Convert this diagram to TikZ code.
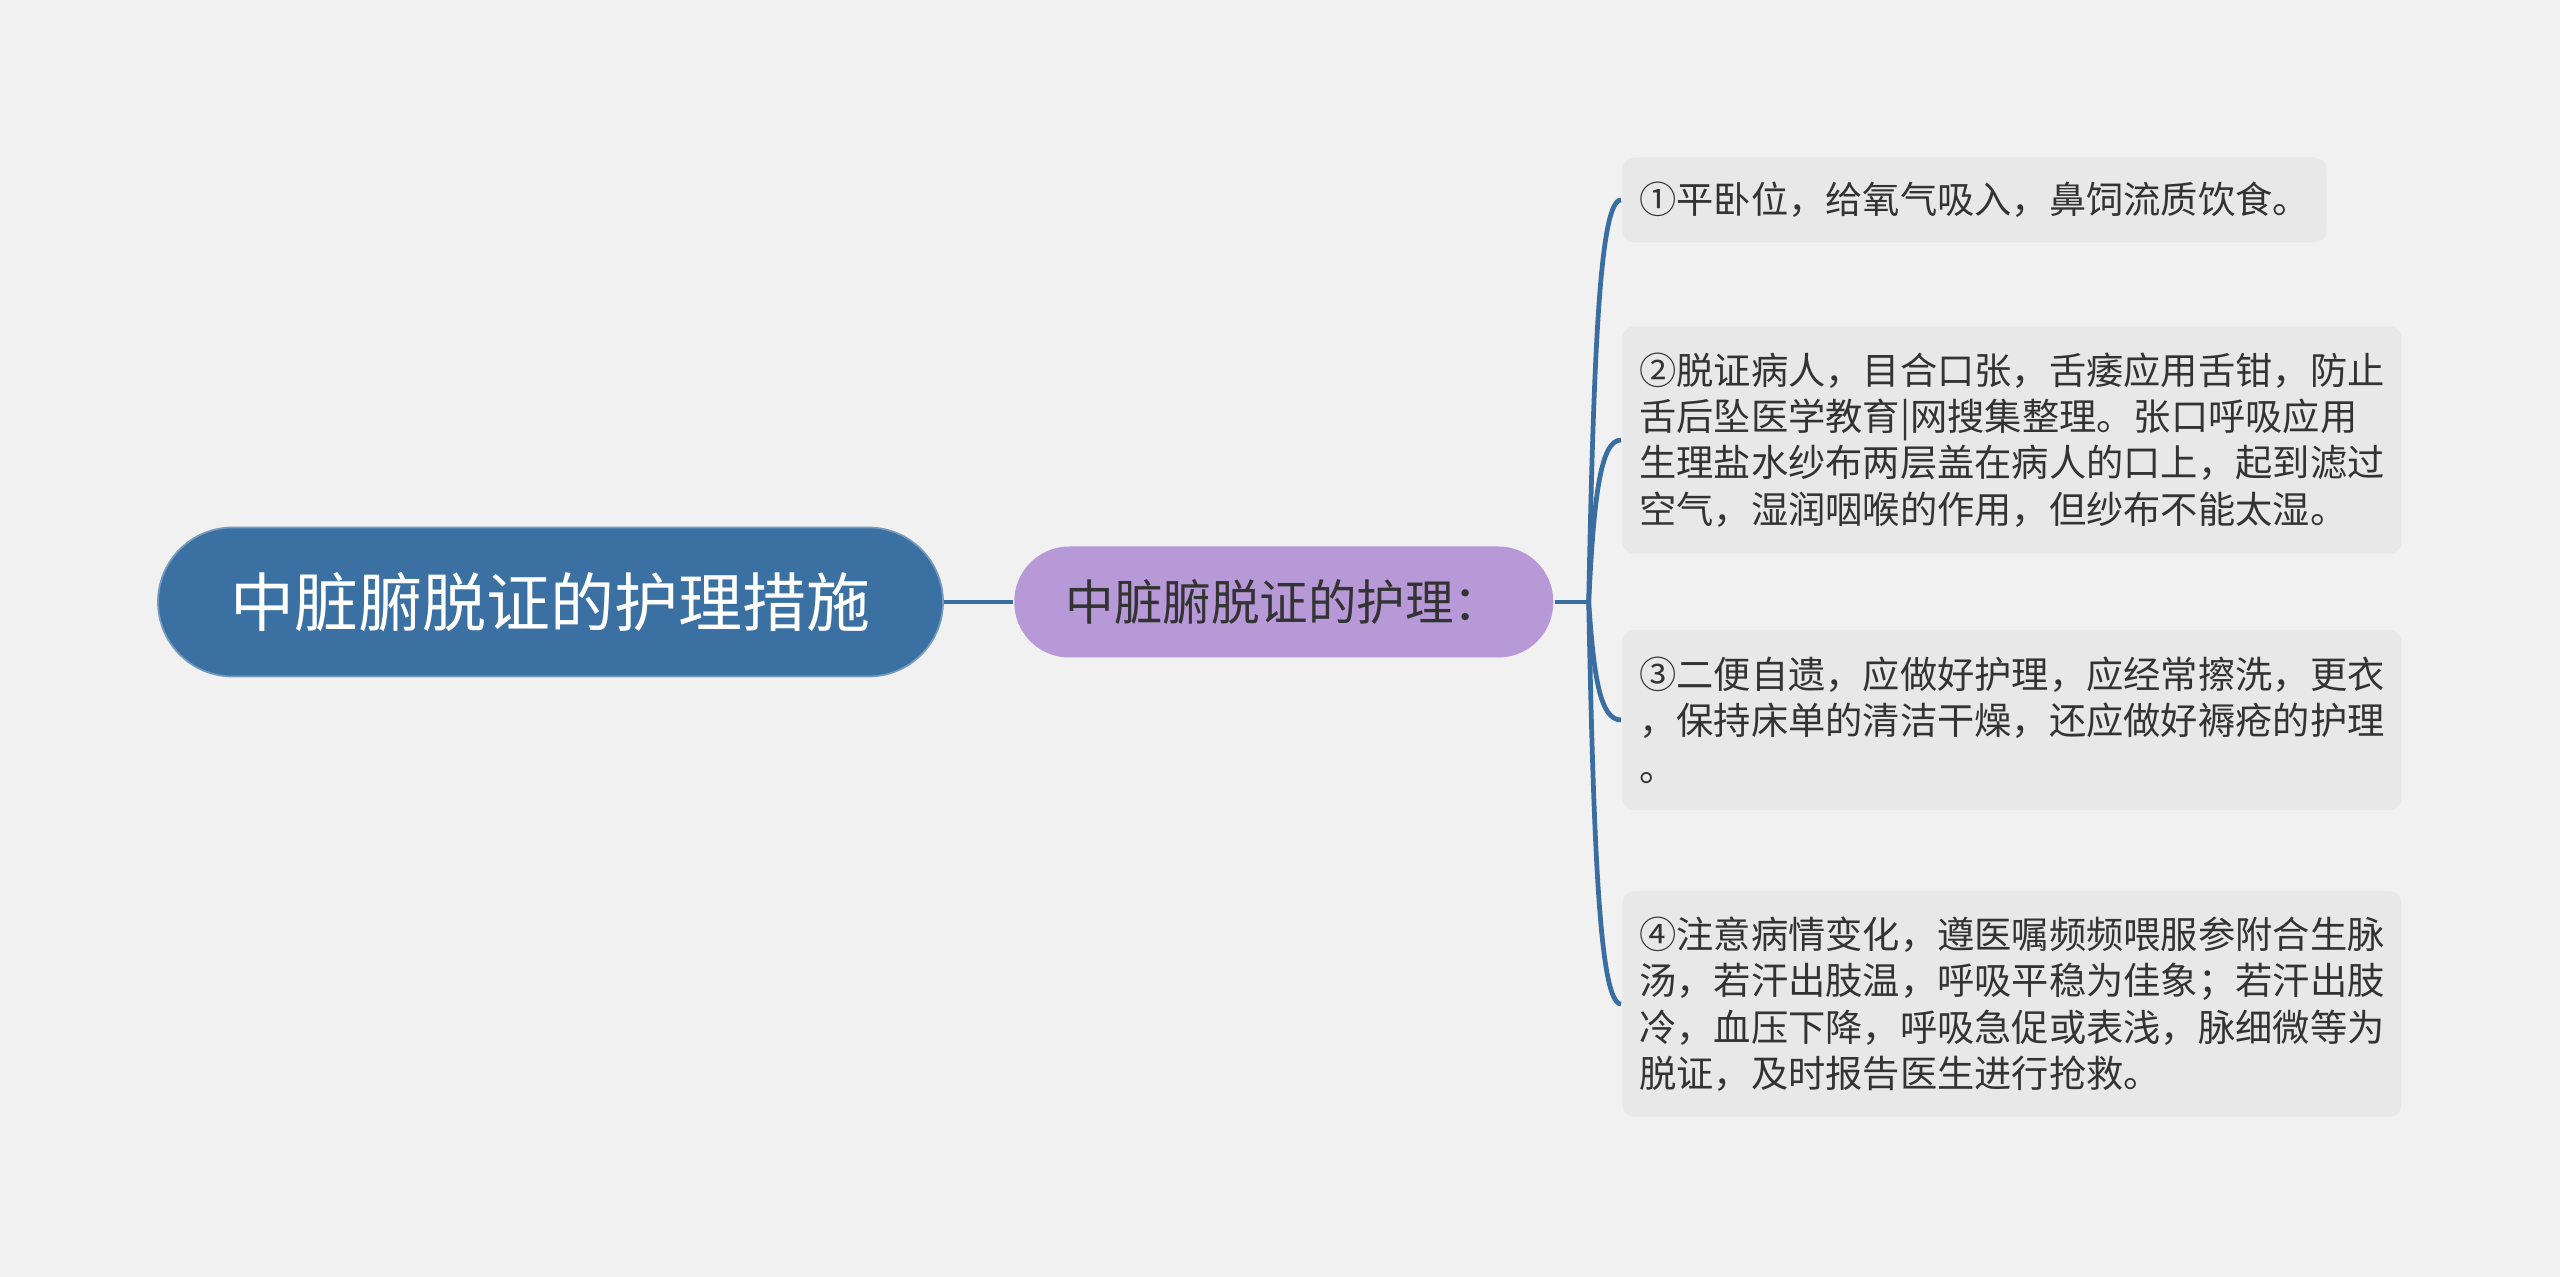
\documentclass[tikz,border=0pt]{standalone}
\usepackage{fontspec}
\setmainfont{Noto Sans CJK SC}
\usetikzlibrary{positioning,calc}

\definecolor{bggray}{RGB}{241,241,241}
\definecolor{rootblue}{RGB}{59,112,162}
\definecolor{linkblue}{RGB}{58,110,160}
\definecolor{subpurple}{RGB}{184,153,216}
\definecolor{leafgray}{RGB}{232,232,232}
\definecolor{textdark}{RGB}{51,51,51}

\begin{document}
\begin{tikzpicture}[thick]
    % Styles
    \tikzstyle{root_node} = [rectangle, rounded corners=0.745cm, fill=rootblue, draw=rootblue!70!white, line width=0.5pt, minimum width=7.85cm, minimum height=1.49cm, text=white, font=\fontsize{18.2pt}{22pt}\selectfont]
    \tikzstyle{sub_node} = [rectangle, rounded corners=0.55cm, fill=subpurple, minimum width=5.39cm, minimum height=1.11cm, text=textdark, font=\fontsize{13.8pt}{16pt}\selectfont]
    \tikzstyle{leaf} = [rectangle, rounded corners=0.12cm, fill=leafgray, anchor=west, align=left, inner xsep=0.17cm, inner ysep=0pt, text=textdark, font=\fontsize{10.6pt}{13.2pt}\selectfont]
    \tikzstyle{link} = [draw=linkblue, line width=1.35pt]

    % Background
    \fill [bggray] (0,0) rectangle (25.6,-12.77);
    \useasboundingbox (0,0) rectangle (25.6,-12.77);

    % Main topic
    \node [root_node] (root) at (5.505,-6.02) {中脏腑脱证的护理措施};
    \node [sub_node, right=0.69cm of root] (care) {中脏腑脱证的护理：};

    % Leaves
    \node [leaf, text width=6.70cm, minimum height=0.85cm] (l1) at (16.21,-2.00) {①平卧位，给氧气吸入，鼻饲流质饮食。};
    \node [leaf, text width=7.45cm, minimum height=2.27cm] (l2) at (16.21,-4.40) {②脱证病人，目合口张，舌痿应用舌钳，防止\\舌后坠医学教育|网搜集整理。张口呼吸应用\\生理盐水纱布两层盖在病人的口上，起到滤过\\空气，湿润咽喉的作用，但纱布不能太湿。};
    \node [leaf, text width=7.45cm, minimum height=1.80cm] (l3) at (16.21,-7.20) {③二便自遗，应做好护理，应经常擦洗，更衣\\，保持床单的清洁干燥，还应做好褥疮的护理\\。};
    \node [leaf, text width=7.45cm, minimum height=2.26cm] (l4) at (16.21,-10.04) {④注意病情变化，遵医嘱频频喂服参附合生脉\\汤，若汗出肢温，呼吸平稳为佳象；若汗出肢\\冷，血压下降，呼吸急促或表浅，脉细微等为\\脱证，及时报告医生进行抢救。};

    % Connections
    \draw [link] (root.east) -- (care.west);
    \coordinate (hub) at ([xshift=0.34cm]care.east);
    \draw [link] (care.east) -- (hub);

    \draw [link] (hub) .. controls ($(hub)!0.63!(hub |- l1.west)+(0.05,0)$) and ($(l1.west)+(-0.21,0)$) .. (l1.west);
    \draw [link] (hub) .. controls ($(hub)!0.63!(hub |- l2.west)+(0.05,0)$) and ($(l2.west)+(-0.21,0)$) .. (l2.west);
    \draw [link] (hub) .. controls ($(hub)!0.63!(hub |- l3.west)+(0.05,0)$) and ($(l3.west)+(-0.21,0)$) .. (l3.west);
    \draw [link] (hub) .. controls ($(hub)!0.63!(hub |- l4.west)+(0.05,0)$) and ($(l4.west)+(-0.21,0)$) .. (l4.west);

\end{tikzpicture}
\end{document}
